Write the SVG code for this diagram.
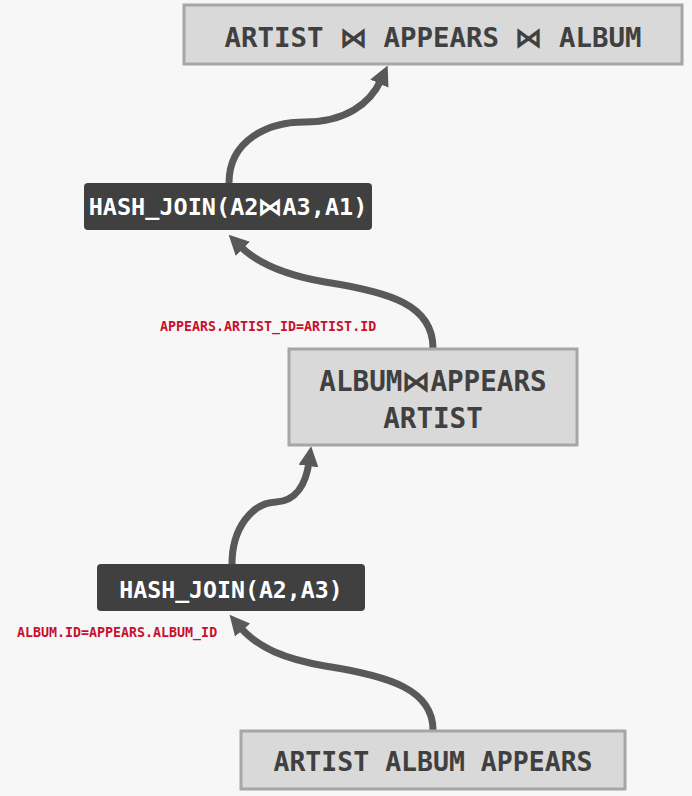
<svg xmlns="http://www.w3.org/2000/svg" width="692" height="796" viewBox="0 0 692 796">
  <style>
    .rel rect { fill: #d9d9d9; stroke: #a6a6a6; stroke-width: 3; }
    .rel text { fill: #404040; font-family: "DejaVu Sans Mono", "Liberation Mono", monospace; font-weight: bold; text-anchor: middle; }
    .op rect { fill: #404040; }
    .op text { fill: #ffffff; font-family: "DejaVu Sans Mono", "Liberation Mono", monospace; font-weight: bold; text-anchor: middle; }
    .cond { fill: #c8102e; font-family: "DejaVu Sans Mono", "Liberation Mono", monospace; font-weight: bold; font-size: 13.3px; }
    .edge { fill: none; stroke: #595959; stroke-width: 7; }
  </style>
  <defs>
    <marker id="head" viewBox="0 0 20 20" refX="4" refY="10" markerWidth="20" markerHeight="20" markerUnits="userSpaceOnUse" orient="auto">
      <path d="M0,0 L20,10 L0,20 z" fill="#595959"/>
    </marker>
  </defs>
  <rect width="692" height="796" fill="#f7f7f7"/>

  <g id="connectors">
    <path class="edge" d="M 229 183 C 229 140, 268 122, 305 122 C 345 122, 370 104, 381 80" marker-end="url(#head)"/>
    <path class="edge" d="M 433 348 C 433 305, 390 292, 325 282 C 285 275, 258 264, 240 246" marker-end="url(#head)"/>
    <path class="edge" d="M 232 564 C 232 528, 252 503, 276 502 C 296 501, 306 484, 309 462" marker-end="url(#head)"/>
    <path class="edge" d="M 433 730 C 433 690, 390 676, 325 666 C 285 659, 258 648, 240 627" marker-end="url(#head)"/>
  </g>

  <g id="result" class="rel">
    <rect x="184" y="5" width="498" height="59"/>
    <text x="433" y="47" font-size="27.4">ARTIST ⋈ APPEARS ⋈ ALBUM</text>
  </g>

  <g id="join2" class="op">
    <rect x="84" y="183" width="288" height="47" rx="4"/>
    <text x="228" y="215" font-size="23.5">HASH_JOIN(A2⋈A3,A1)</text>
  </g>

  <text id="cond2" class="cond" x="160" y="331">APPEARS.ARTIST_ID=ARTIST.ID</text>

  <g id="mid" class="rel">
    <rect x="289" y="349" width="288" height="96"/>
    <text x="433" y="391" font-size="27.6">ALBUM⋈APPEARS</text>
    <text x="433" y="428" font-size="27.6">ARTIST</text>
  </g>

  <g id="join1" class="op">
    <rect x="97" y="564" width="268" height="47" rx="4"/>
    <text x="231" y="598" font-size="23.2">HASH_JOIN(A2,A3)</text>
  </g>

  <text id="cond1" class="cond" x="17" y="637">ALBUM.ID=APPEARS.ALBUM_ID</text>

  <g id="base" class="rel">
    <rect x="241" y="731" width="384" height="58"/>
    <text x="433" y="771" font-size="26.5">ARTIST ALBUM APPEARS</text>
  </g>
</svg>
